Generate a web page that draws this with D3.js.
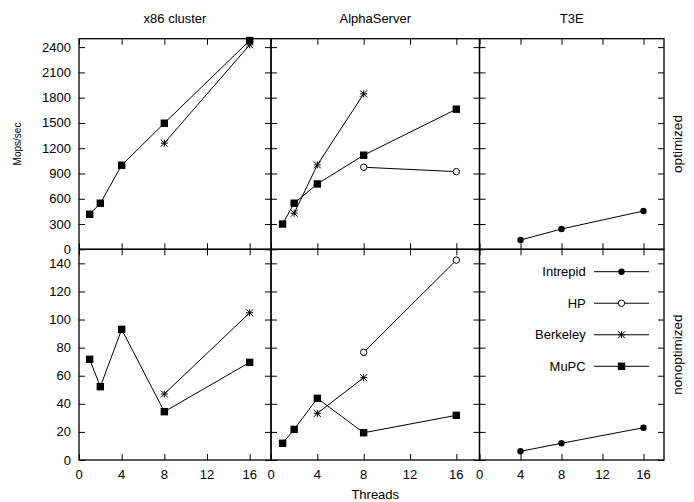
<!DOCTYPE html>
<html>
<head>
<meta charset="utf-8">
<script src="https://cdn.jsdelivr.net/npm/d3@7"></script>
<style>
  body { margin: 0; background: #fff; }
  text { font-family: "Liberation Sans", Arial, sans-serif; fill: #000; }
</style>
</head>
<body>
<script>
var width = 694;
var height = 502;

// labels and ticks
var machines = ["x86 cluster", "AlphaServer", "T3E"];
var modes = ["optimized", "nonoptimized"];
var seriesNames = ["Intrepid", "HP", "Berkeley", "MuPC"];
var xTicks = [0, 4, 8, 12, 16];
var yTicksOpt = [0, 300, 600, 900, 1200, 1500, 1800, 2100, 2400];
var yTicksNon = [0, 20, 40, 60, 80, 100, 120, 140];

// [threads, Mops/sec]
var x86OptMuPC = [[1, 416], [2, 547], [4, 998], [8, 1497], [16, 2478]];
var x86OptBerkeley = [[8, 1260], [16, 2427]];
var alphaOptHP = [[8, 974], [16, 922]];
var alphaOptBerkeley = [[2, 428], [4, 1002], [8, 1845]];
var alphaOptMuPC = [[1, 300], [2, 547], [4, 776], [8, 1117], [16, 1663]];
var t3eOptIntrepid = [[4, 110], [8, 241], [16, 455]];

var x86NonMuPC = [[1, 71.7], [2, 52.2], [4, 93], [8, 34.4], [16, 69.5]];
var x86NonBerkeley = [[8, 47], [16, 104.8]];
var alphaNonHP = [[8, 76.6], [16, 142.3]];
var alphaNonBerkeley = [[4, 33.2], [8, 58.6]];
var alphaNonMuPC = [[1, 11.9], [2, 21.8], [4, 43.9], [8, 19.4], [16, 31.8]];
var t3eNonIntrepid = [[4, 6.2], [8, 11.9], [16, 23]];

var cols = [[79, 271], [271, 479.5], [479.5, 664]];
var rows = [[38.7, 249.3], [249.3, 460]];
var yMax = [2500, 150];

var panels = [
  {c: 0, r: 0, series: [["Berkeley", x86OptBerkeley], ["MuPC", x86OptMuPC]]},
  {c: 1, r: 0, series: [["HP", alphaOptHP], ["Berkeley", alphaOptBerkeley], ["MuPC", alphaOptMuPC]]},
  {c: 2, r: 0, series: [["Intrepid", t3eOptIntrepid]]},
  {c: 0, r: 1, series: [["Berkeley", x86NonBerkeley], ["MuPC", x86NonMuPC]]},
  {c: 1, r: 1, series: [["HP", alphaNonHP], ["Berkeley", alphaNonBerkeley], ["MuPC", alphaNonMuPC]]},
  {c: 2, r: 1, series: [["Intrepid", t3eNonIntrepid]]}
];

var svg = d3.select("body").append("svg")
  .attr("width", width)
  .attr("height", height);

function marker(g, name, x, y) {
  if (name == "Intrepid") {
    g.append("circle").attr("cx", x).attr("cy", y).attr("r", 3.2).attr("fill", "#000");
  } else if (name == "HP") {
    g.append("circle").attr("cx", x).attr("cy", y).attr("r", 3.2)
      .attr("fill", "#fff").attr("stroke", "#000").attr("stroke-width", 1);
  } else if (name == "Berkeley") {
    var s = 3.5;
    var p = "M" + (x - s) + "," + y + "h" + 2 * s +
            "M" + x + "," + (y - s) + "v" + 2 * s +
            "M" + (x - s) + "," + (y - s) + "l" + 2 * s + "," + 2 * s +
            "M" + (x - s) + "," + (y + s) + "l" + 2 * s + "," + (-2 * s);
    g.append("path").attr("d", p).attr("stroke", "#000").attr("stroke-width", 1).attr("fill", "none");
  } else {
    g.append("rect").attr("x", x - 3.7).attr("y", y - 3.7)
      .attr("width", 7.4).attr("height", 7.4).attr("fill", "#000");
  }
}

var tickLen = 6;

panels.forEach(function(p) {
  var x = d3.scaleLinear().domain([0, 18]).range(cols[p.c]);
  var y = d3.scaleLinear().domain([0, yMax[p.r]]).range([rows[p.r][1], rows[p.r][0]]);
  var yTicks = p.r == 0 ? yTicksOpt : yTicksNon;
  var g = svg.append("g");

  // inward ticks on all four sides
  g.append("g").attr("transform", "translate(0," + rows[p.r][1] + ")")
    .call(d3.axisTop(x).tickValues(xTicks).tickSize(tickLen).tickFormat(""));
  g.append("g").attr("transform", "translate(0," + rows[p.r][0] + ")")
    .call(d3.axisBottom(x).tickValues(xTicks).tickSize(tickLen).tickFormat(""));
  g.append("g").attr("transform", "translate(" + cols[p.c][0] + ",0)")
    .call(d3.axisRight(y).tickValues(yTicks).tickSize(tickLen).tickFormat(""));
  g.append("g").attr("transform", "translate(" + cols[p.c][1] + ",0)")
    .call(d3.axisLeft(y).tickValues(yTicks).tickSize(tickLen).tickFormat(""));
  g.selectAll(".domain").remove();
  g.selectAll(".tick line").attr("stroke", "#000").attr("stroke-width", 1);

  g.append("rect")
    .attr("x", cols[p.c][0]).attr("y", rows[p.r][0])
    .attr("width", cols[p.c][1] - cols[p.c][0])
    .attr("height", rows[p.r][1] - rows[p.r][0])
    .attr("fill", "none").attr("stroke", "#000").attr("stroke-width", 1.3);

  // tick labels on outer edges only
  if (p.r == 1) {
    g.selectAll(".xl").data(xTicks).enter().append("text")
      .attr("x", d => x(d)).attr("y", 479)
      .attr("text-anchor", "middle").attr("font-size", 13)
      .text(d => d);
  }
  if (p.c == 0) {
    g.selectAll(".yl").data(yTicks).enter().append("text")
      .attr("x", 71).attr("y", d => y(d) + 4.5)
      .attr("text-anchor", "end").attr("font-size", 13)
      .text(d => d);
  }

  var line = d3.line().x(d => x(d[0])).y(d => y(d[1]));
  p.series.forEach(function(s) {
    g.append("path").attr("d", line(s[1]))
      .attr("fill", "none").attr("stroke", "#000").attr("stroke-width", 1);
    s[1].forEach(d => marker(g, s[0], x(d[0]), y(d[1])));
  });
});

// titles
machines.forEach(function(m, i) {
  svg.append("text")
    .attr("x", (cols[i][0] + cols[i][1]) / 2).attr("y", 23)
    .attr("text-anchor", "middle").attr("font-size", 13)
    .text(m);
});

modes.forEach(function(m, i) {
  var cy = (rows[i][0] + rows[i][1]) / 2;
  svg.append("text")
    .attr("transform", "translate(682," + cy + ") rotate(-90)")
    .attr("text-anchor", "middle").attr("font-size", 13.5)
    .text(m);
});

svg.append("text")
  .attr("transform", "translate(21," + (rows[0][0] + rows[0][1]) / 2 + ") rotate(-90)")
  .attr("text-anchor", "middle").attr("font-size", 10)
  .text("Mops/sec");

svg.append("text")
  .attr("x", (cols[1][0] + cols[1][1]) / 2).attr("y", 499)
  .attr("text-anchor", "middle").attr("font-size", 13)
  .text("Threads");

// legend in the lower right panel
var legY = d3.scalePoint().domain(seriesNames).range([271.7, 366.3]);
var leg = svg.append("g");
seriesNames.forEach(function(n) {
  var ly = legY(n);
  leg.append("text").attr("x", 585.7).attr("y", ly + 4.5)
    .attr("text-anchor", "end").attr("font-size", 13).text(n);
  leg.append("line").attr("x1", 594).attr("x2", 649).attr("y1", ly).attr("y2", ly)
    .attr("stroke", "#000").attr("stroke-width", 1);
  marker(leg, n, 621.5, ly);
});
</script>
</body>
</html>
